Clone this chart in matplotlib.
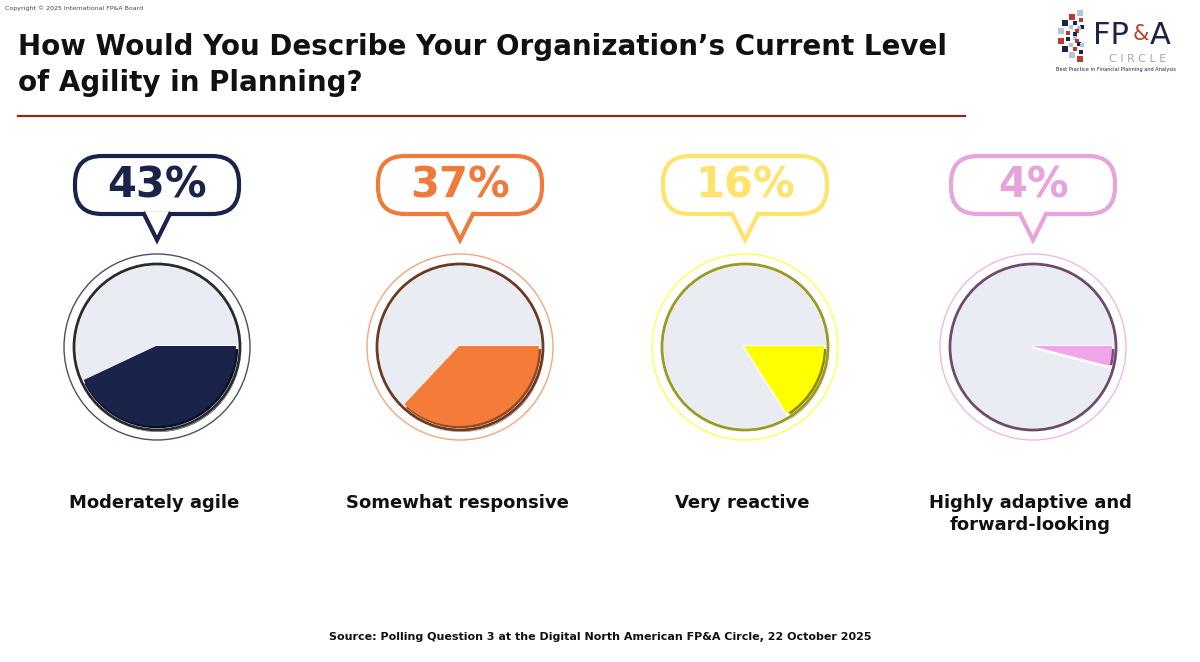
import numpy as np
import matplotlib.pyplot as plt
from matplotlib.patches import FancyBboxPatch, Polygon, Circle

# poll results
categories = ["Moderately agile", "Somewhat responsive", "Very reactive",
              "Highly adaptive and\nforward-looking"]
shares = [43, 37, 16, 4]
pct_labels = ["43%", "37%", "16%", "4%"]

title = "How Would You Describe Your Organization\u2019s Current Level\nof Agility in Planning?"
source = "Source: Polling Question 3 at the Digital North American FP&A Circle, 22 October 2025"
copyright_text = "Copyright \u00a9 2025 International FP&A Board"

# styling
slice_colors = ["#1a2349", "#f47b38", "#ffff00", "#f0a6e6"]
shade_colors = ["#0b1028", "#9a4a20", "#8c8c00", "#7a4a78"]
bubble_colors = ["#1a2349", "#ef7a3a", "#ffe36a", "#e8a2dc"]
ring_colors = ["#4a4f6e", "#f5a57a", "#ffff50", "#f2b6ea"]
rim_colors = ["#2b2b2b", "#6a3a22", "#9a9a20", "#6e4a6c"]
rest_color = "#e9ecf3"

W, H = 1200, 662
centers_x = [157, 460, 745, 1033]
pie_y = H - 347
pie_r = 83
ring_r = 93

fig = plt.figure(figsize=(12, 6.62), dpi=100)
ax = fig.add_axes([0, 0, 1, 1])

for i, (cx, share) in enumerate(zip(centers_x, shares)):
    # outer thin ring
    ax.add_patch(Circle((cx, pie_y), ring_r, fill=False,
                        edgecolor=ring_colors[i], lw=1.0))
    # shading under the slice
    ax.pie([share, 100 - share], center=(cx + 1, pie_y - 2), radius=pie_r,
           startangle=0, counterclock=False,
           colors=[shade_colors[i], "none"],
           wedgeprops=dict(linewidth=0))
    ax.pie([100 - share, share], center=(cx, pie_y), radius=pie_r,
           startangle=-share * 3.6, counterclock=False,
           colors=[rest_color, "none"],
           wedgeprops=dict(edgecolor="white", linewidth=2.5))
    ax.pie([share, 100 - share], center=(cx - 1, pie_y + 1), radius=pie_r - 3,
           startangle=0, counterclock=False,
           colors=[slice_colors[i], "none"],
           wedgeprops=dict(linewidth=0))
    ax.add_patch(Circle((cx, pie_y), pie_r, fill=False,
                        edgecolor=rim_colors[i], lw=2.0))

    # speech bubble
    bw, bh = 164, 58
    top = H - 156
    box = FancyBboxPatch((cx - bw / 2, top - bh), bw, bh,
                         boxstyle="round,pad=0,rounding_size=27",
                         facecolor="white", edgecolor=bubble_colors[i], lw=3)
    ax.add_patch(box)
    tail_top = top - bh
    tip = H - 240
    ax.add_patch(Polygon([[cx - 13, tail_top + 2], [cx, tip], [cx + 13, tail_top + 2]],
                         closed=True, facecolor="white", edgecolor="none", zorder=3))
    ax.plot([cx - 13, cx, cx + 13], [tail_top, tip, tail_top],
            color=bubble_colors[i], lw=3, solid_joinstyle="miter", zorder=4)
    ax.text(cx, top - bh / 2 - 1, pct_labels[i], fontsize=30, fontweight="heavy",
            color=bubble_colors[i], ha="center", va="center", zorder=5)

    ax.text(cx - 3, H - 494, categories[i], fontsize=13, fontweight="bold",
            color="#111111", ha="center", va="top", linespacing=1.3)

# pie() resets the limits, so set them after
ax.set_xlim(0, W)
ax.set_ylim(0, H)
ax.set_aspect("equal")
ax.axis("off")

ax.text(5, H - 5, copyright_text, fontsize=4.5, color="#444444",
        ha="left", va="top")
ax.text(18, H - 33, title, fontsize=20, fontweight="bold", color="#111111",
        ha="left", va="top", linespacing=1.35)
ax.plot([18, 965], [H - 116, H - 116], color="#8b2b1b", lw=1.6)

ax.text(600, H - 637, source, fontsize=8, fontweight="bold", color="#111111",
        ha="center", va="center")

# logo
ang = np.radians(np.linspace(100, 260, 8))
cols = ["#b8c3d3", "#c0392b", "#1a2349"]
for k, rr in enumerate([23, 16, 9]):
    for j, a in enumerate(ang):
        ax.scatter(1084 + rr * np.cos(a), H - 36 + rr * np.sin(a), marker="s",
                   s=14 - k * 3, color=cols[(j + k) % 3], linewidths=0)
ax.text(1093, H - 35, "FP", fontsize=22, color="#1a2349", ha="left", va="center")
ax.text(1133, H - 34, "&", fontsize=15, color="#c0392b", ha="left", va="center")
ax.text(1150, H - 35, "A", fontsize=22, color="#1a2349", ha="left", va="center")
ax.text(1138, H - 58.5, "C I R C L E", fontsize=8, color="#9aa8bd",
        ha="center", va="center")
ax.text(1116, H - 69, "Best Practice in Financial Planning and Analysis",
        fontsize=3.6, color="#1a2349", ha="center", va="center")

fig.savefig("out.png", dpi=100, facecolor="white")
